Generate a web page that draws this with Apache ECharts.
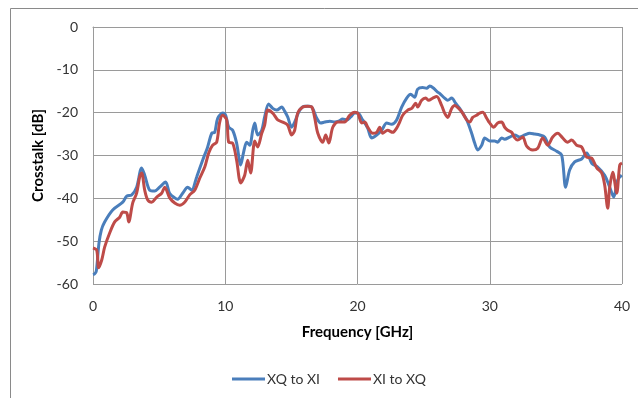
<!DOCTYPE html>
<html><head><meta charset="utf-8">
<script src="https://cdn.jsdelivr.net/npm/echarts@6/dist/echarts.min.js"></script>
<style>html,body{margin:0;padding:0;background:#fff}#c{width:638px;height:398px}</style>
</head><body><div id="c"></div>
<script>
var seriesNames = ["XQ to XI", "XI to XQ"];
var xTicks = [0, 10, 20, 30, 40];
var yTicks = [-60, -50, -40, -30, -20, -10, 0];

var freqBlue = [0.0,0.13,0.25,0.45,0.63,0.88,1.49,2.25,2.55,2.93,3.30,3.68,3.91,4.29,4.67,5.04,5.49,5.79,6.18,6.40,6.78,7.16,7.46,7.84,8.29,8.67,8.98,9.20,9.43,9.81,10.03,10.26,10.56,10.86,11.17,11.39,11.62,11.85,12.08,12.23,12.45,12.76,12.98,13.28,13.59,13.89,14.27,14.50,14.72,15.02,15.25,15.63,16.01,16.39,16.61,16.92,17.22,17.52,17.90,18.28,18.58,18.88,19.18,19.49,19.79,20.02,20.39,20.77,21.07,21.45,21.83,22.21,22.58,22.96,23.34,23.72,24.02,24.32,24.55,24.93,25.23,25.46,25.76,26.06,26.21,26.59,26.82,27.12,27.42,27.73,27.95,28.26,28.63,28.86,29.09,29.39,29.62,29.99,30.37,30.60,30.90,31.13,31.51,31.89,32.27,32.65,33.02,33.40,33.78,34.16,34.53,35.06,35.44,35.74,36.04,36.42,36.95,37.33,37.71,38.16,38.69,39.07,39.37,39.68,39.98];
var dbBlue = [-57.8,-57.6,-57.0,-50.5,-47.4,-45.5,-42.7,-40.9,-39.5,-39.2,-37.4,-32.9,-34.6,-38.1,-38.3,-37.4,-36.2,-38.8,-39.9,-40.2,-38.8,-37.4,-38.1,-35.0,-31.1,-28.0,-24.8,-24.6,-21.3,-20.1,-20.6,-23.4,-24.1,-27.1,-32.2,-29.2,-26.9,-27.6,-24.1,-22.4,-25.2,-24.1,-21.0,-18.0,-19.0,-19.4,-18.7,-19.7,-21.0,-23.4,-22.2,-19.4,-18.5,-18.5,-19.0,-21.3,-22.4,-22.2,-22.0,-22.2,-22.0,-21.5,-21.7,-21.0,-20.1,-20.1,-21.7,-23.6,-25.9,-25.2,-24.1,-22.4,-22.7,-21.7,-18.7,-16.6,-15.7,-16.4,-14.5,-14.1,-14.3,-13.8,-14.3,-15.2,-15.5,-16.6,-17.1,-16.6,-17.8,-19.0,-20.1,-21.7,-24.8,-27.1,-28.7,-27.6,-25.9,-26.6,-26.6,-26.9,-25.9,-26.2,-25.7,-25.2,-25.7,-25.2,-24.8,-25.0,-25.2,-25.7,-28.0,-29.0,-29.9,-37.4,-33.4,-31.5,-30.8,-29.4,-31.8,-32.7,-34.6,-37.4,-39.7,-35.7,-34.6];

var freqRed = [0.0,0.28,0.43,0.66,0.88,1.26,1.64,2.02,2.25,2.55,2.70,3.00,3.30,3.53,3.68,3.91,4.14,4.44,4.82,5.19,5.42,5.80,6.18,6.56,6.93,7.31,7.69,8.07,8.45,8.75,9.05,9.35,9.58,9.81,10.11,10.26,10.56,10.86,11.17,11.47,11.70,11.92,12.23,12.45,12.76,12.98,13.21,13.59,13.97,14.35,14.72,15.02,15.25,15.48,15.86,16.24,16.55,16.77,17.00,17.37,17.60,17.83,18.13,18.50,18.88,19.03,19.41,19.79,20.02,20.32,20.55,20.77,21.15,21.45,21.68,21.90,22.28,22.66,22.96,23.19,23.42,23.80,24.10,24.40,24.55,24.85,25.16,25.38,25.69,25.99,26.36,26.59,26.82,27.12,27.35,27.65,27.95,28.26,28.48,28.71,29.01,29.24,29.47,29.77,29.99,30.30,30.60,30.90,31.13,31.36,31.66,31.89,32.11,32.49,32.79,33.25,33.63,34.00,34.38,34.76,35.14,35.51,35.89,36.19,36.57,36.95,37.33,37.71,38.09,38.47,38.69,38.92,39.07,39.30,39.60,39.83,40.0];
var dbRed = [-51.6,-52.1,-56.2,-54.4,-51.4,-48.1,-45.5,-44.4,-43.2,-43.4,-45.5,-41.1,-38.8,-35.0,-34.1,-38.1,-40.4,-40.9,-39.7,-38.8,-37.4,-39.9,-41.1,-41.6,-40.9,-39.2,-38.1,-35.3,-32.7,-29.4,-27.6,-26.9,-22.2,-20.6,-21.7,-26.9,-27.1,-31.1,-36.4,-34.6,-31.1,-34.1,-26.6,-28.0,-24.8,-22.9,-19.4,-20.1,-21.7,-22.2,-22.9,-25.2,-24.1,-20.1,-18.7,-18.5,-18.7,-21.3,-24.8,-26.9,-25.2,-27.1,-23.4,-22.2,-22.2,-22.2,-20.6,-19.9,-20.1,-22.4,-22.2,-23.4,-24.8,-24.6,-23.4,-24.8,-24.1,-24.6,-23.6,-22.2,-20.6,-19.4,-19.0,-17.8,-18.7,-17.1,-16.6,-17.1,-16.6,-16.2,-18.3,-20.1,-21.1,-19.0,-18.3,-19.0,-20.1,-21.7,-22.2,-21.1,-20.6,-20.1,-19.9,-21.3,-22.4,-23.4,-22.4,-22.2,-23.4,-24.1,-24.6,-25.9,-26.4,-25.7,-27.8,-28.7,-28.3,-25.9,-27.6,-25.7,-24.8,-25.9,-26.9,-26.4,-27.6,-28.0,-30.4,-30.6,-32.9,-34.1,-36.9,-42.3,-37.4,-33.9,-38.8,-32.2,-31.8];

function pairs(xs, ys){ return xs.map(function(x,i){ return [x, ys[i]]; }); }

var FONT = 'Lato';
var chart = echarts.init(document.getElementById('c'), null, {renderer:'canvas'});
chart.setOption({
  animation:false,
  backgroundColor:'#fff',
  textStyle:{fontFamily:FONT},
  grid:{left:93, top:27, right:16, bottom:114, containLabel:false},
  xAxis:{
    type:'value', min:xTicks[0], max:xTicks[xTicks.length-1], interval:10,
    name:'Frequency [GHz]', nameLocation:'middle', nameGap:41,
    nameTextStyle:{fontFamily:FONT, fontWeight:'bold', fontSize:15, color:'#000'},
    axisLine:{show:true, lineStyle:{color:'#9a9a9a', width:1}},
    axisTick:{show:false},
    axisLabel:{fontFamily:FONT, fontSize:14, color:'#333', margin:15},
    splitLine:{show:true, lineStyle:{color:'#9a9a9a', width:1}}
  },
  yAxis:{
    type:'value', min:yTicks[0], max:yTicks[yTicks.length-1], interval:10,
    name:'Crosstalk [dB]', nameLocation:'middle', nameGap:44, nameRotate:90,
    nameTextStyle:{fontFamily:FONT, fontWeight:'bold', fontSize:15, color:'#000'},
    axisLine:{show:true, lineStyle:{color:'#9a9a9a', width:1}},
    axisTick:{show:false},
    axisLabel:{fontFamily:FONT, fontSize:14, color:'#333', margin:15},
    splitLine:{show:true, lineStyle:{color:'#9a9a9a', width:1}}
  },
  legend:{
    left:227, top:367, itemWidth:33, itemHeight:3, itemGap:18,
    icon:'rect',
    textStyle:{fontFamily:FONT, fontSize:14, color:'#333', padding:[0,0,0,-3]},
    data:seriesNames
  },
  graphic:[
    {type:'line', shape:{x1:10.5,y1:8.5,x2:638,y2:8.5}, style:{stroke:'#8a8a8a', lineWidth:1}},
    {type:'line', shape:{x1:10.5,y1:8.5,x2:10.5,y2:398}, style:{stroke:'#8a8a8a', lineWidth:1}},
    {type:'line', shape:{x1:622.5,y1:27,x2:622.5,y2:284}, style:{stroke:'#9a9a9a', lineWidth:1}}
  ],
  series:[
    {name:seriesNames[0], type:'line', data:pairs(freqBlue, dbBlue), showSymbol:false, smooth:0.3,
     lineStyle:{color:'#4a7ebb', width:3}, itemStyle:{color:'#4a7ebb'}},
    {name:seriesNames[1], type:'line', data:pairs(freqRed, dbRed), showSymbol:false, smooth:0.3,
     lineStyle:{color:'#be4b48', width:3}, itemStyle:{color:'#be4b48'}}
  ]
});
</script></body></html>
